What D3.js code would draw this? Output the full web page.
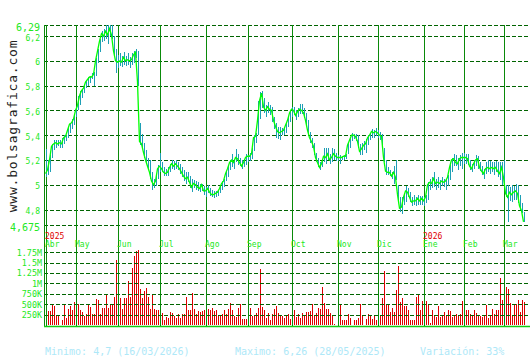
<!DOCTYPE html>
<meta charset="utf-8">
<style>
body { margin: 0; background: #fff; }
svg { display: block; }
text { font-family: "DejaVu Sans Mono", monospace; }
.grid { stroke: #006400; stroke-dasharray: 4,2; shape-rendering: crispEdges; }
.month { stroke: #0a8a0a; shape-rendering: crispEdges; }
.lbl { fill: #22e822; }
.vbar { fill: #dd0000; shape-rendering: crispEdges; }
</style>
<svg width="530" height="360"></svg>
<script src="https://d3js.org/d3.v7.min.js"></script>
<script>

// daily closes, highs, lows (trading-day index 0..239)
var closes = [
  5.09,5.12,5.2,5.31,5.33,5.34,5.33,5.34,5.33,5.38,
  5.39,5.44,5.49,5.5,5.53,5.6,5.64,5.72,5.76,5.78,
  5.83,5.85,5.87,5.87,5.89,6.0,6.08,6.16,6.22,6.2,
  6.24,6.21,6.26,6.21,6.08,6.0,5.99,6.0,5.99,6.03,
  6.0,6.01,6.0,6.01,6.05,6.07,5.83,5.35,5.33,5.26,
  5.2,5.15,5.1,5.03,5.0,5.03,5.13,5.15,5.13,5.1,
  5.09,5.1,5.14,5.17,5.15,5.17,5.15,5.13,5.1,5.07,
  5.05,5.06,5.02,4.98,5.01,5.0,4.98,4.97,5.0,4.95,
  4.95,4.97,4.94,4.92,4.92,4.93,4.94,4.97,5.01,5.03,
  5.09,5.13,5.18,5.2,5.18,5.22,5.21,5.18,5.15,5.18,
  5.22,5.23,5.23,5.25,5.38,5.39,5.52,5.68,5.74,5.63,
  5.6,5.63,5.61,5.6,5.52,5.47,5.43,5.42,5.43,5.44,
  5.48,5.52,5.58,5.61,5.6,5.56,5.59,5.61,5.6,5.58,
  5.52,5.44,5.38,5.35,5.31,5.22,5.18,5.14,5.17,5.23,
  5.22,5.25,5.2,5.22,5.25,5.23,5.22,5.22,5.22,5.23,
  5.23,5.32,5.36,5.4,5.4,5.39,5.35,5.27,5.29,5.32,
  5.33,5.38,5.4,5.43,5.42,5.43,5.42,5.4,5.39,5.22,
  5.11,5.1,5.1,5.07,5.1,5.06,4.92,4.81,4.82,4.9,
  4.95,4.94,4.9,4.86,4.87,4.87,4.89,4.87,4.89,4.87,
  4.9,5.0,5.02,5.01,5.05,5.01,5.02,5.01,5.03,5.02,
  5.03,5.06,5.14,5.2,5.21,5.18,5.17,5.21,5.22,5.22,
  5.22,5.21,5.15,5.13,5.17,5.2,5.21,5.14,5.11,5.09,
  5.13,5.14,5.13,5.14,5.13,5.14,5.11,5.09,5.14,5.06,
  4.93,4.9,4.94,4.92,4.94,4.95,4.93,4.83,4.79,4.7
];
var highs = [
  5.29,5.2,5.24,5.33,5.36,5.36,5.36,5.36,5.38,5.4,
  5.4,5.46,5.5,5.53,5.56,5.62,5.72,5.76,5.77,5.8,
  5.84,5.87,5.88,5.9,5.91,6.02,6.1,6.18,6.24,6.26,
  6.29,6.29,6.29,6.29,6.2,6.1,6.05,6.06,6.04,6.07,
  6.04,6.06,6.03,6.06,6.08,6.1,6.08,5.5,5.41,5.34,
  5.28,5.22,5.2,5.1,5.05,5.08,5.16,5.26,5.18,5.14,
  5.13,5.14,5.17,5.2,5.19,5.2,5.18,5.17,5.14,5.12,
  5.1,5.1,5.07,5.05,5.04,5.03,5.02,5.01,5.01,4.99,
  4.98,5.0,4.97,4.96,4.95,4.95,4.96,4.99,5.03,5.05,
  5.11,5.15,5.2,5.25,5.2,5.29,5.25,5.22,5.2,5.21,
  5.25,5.24,5.26,5.3,5.4,5.42,5.68,5.75,5.76,5.7,
  5.64,5.67,5.64,5.63,5.55,5.5,5.47,5.47,5.46,5.47,
  5.5,5.55,5.6,5.63,5.63,5.6,5.62,5.65,5.65,5.62,
  5.58,5.52,5.43,5.38,5.34,5.26,5.22,5.18,5.2,5.3,
  5.3,5.3,5.25,5.3,5.29,5.26,5.24,5.24,5.23,5.24,
  5.25,5.34,5.38,5.42,5.41,5.41,5.4,5.33,5.34,5.35,
  5.37,5.4,5.42,5.45,5.44,5.46,5.44,5.43,5.41,5.3,
  5.2,5.14,5.12,5.1,5.15,5.2,5.0,4.9,4.9,4.92,
  4.99,4.97,4.94,4.9,4.92,4.9,4.92,4.91,4.91,4.9,
  4.92,5.02,5.05,5.06,5.1,5.05,5.06,5.04,5.06,5.05,
  5.05,5.08,5.16,5.22,5.25,5.24,5.22,5.24,5.26,5.26,
  5.25,5.25,5.2,5.17,5.2,5.24,5.23,5.18,5.15,5.13,
  5.18,5.2,5.19,5.18,5.18,5.19,5.18,5.18,5.18,5.2,
  5.0,5.0,4.98,5.0,4.99,5.01,5.0,4.92,4.85,4.78
];
var lows = [
  5.06,5.08,5.1,5.22,5.28,5.3,5.31,5.3,5.3,5.33,
  5.35,5.38,5.42,5.45,5.48,5.55,5.6,5.64,5.7,5.74,
  5.78,5.8,5.82,5.85,5.8,5.88,5.98,6.07,6.15,6.16,
  6.18,6.14,6.2,6.18,6.05,5.9,5.94,5.96,5.95,5.97,
  5.96,5.97,5.94,5.97,5.98,6.02,5.8,5.32,5.3,5.22,
  5.17,5.12,5.05,4.96,4.97,4.99,5.05,5.1,5.1,5.07,
  5.07,5.07,5.1,5.13,5.12,5.13,5.12,5.09,5.06,5.03,
  5.01,5.02,4.97,4.94,4.97,4.96,4.95,4.94,4.95,4.92,
  4.9,4.93,4.91,4.9,4.89,4.9,4.91,4.93,4.96,4.98,
  5.03,5.06,5.12,5.14,5.13,5.18,5.16,5.15,5.13,5.14,
  5.16,5.18,5.19,5.21,5.27,5.34,5.4,5.53,5.62,5.58,
  5.55,5.58,5.56,5.51,5.45,5.38,5.37,5.36,5.4,5.4,
  5.42,5.47,5.51,5.55,5.56,5.52,5.55,5.57,5.57,5.54,
  5.48,5.41,5.34,5.3,5.24,5.18,5.14,5.12,5.14,5.18,
  5.17,5.2,5.17,5.18,5.2,5.19,5.19,5.17,5.2,5.2,
  5.21,5.25,5.3,5.35,5.37,5.35,5.3,5.24,5.24,5.28,
  5.26,5.32,5.36,5.38,5.38,5.39,5.38,5.36,5.3,5.18,
  5.08,5.08,5.07,5.05,5.01,5.04,4.88,4.78,4.76,4.84,
  4.86,4.9,4.86,4.83,4.84,4.83,4.84,4.84,4.84,4.83,
  4.85,4.88,4.96,4.97,4.98,4.96,4.97,4.96,4.99,4.98,
  4.96,4.99,5.04,5.1,5.15,5.15,5.12,5.15,5.13,5.17,
  5.17,5.16,5.12,5.1,5.13,5.15,5.13,5.11,5.08,5.05,
  5.09,5.1,5.09,5.1,5.08,5.1,5.06,5.04,5.0,5.0,
  4.9,4.7,4.87,4.86,4.88,4.88,4.85,4.8,4.77,4.7
];
// volume, thousands of shares
var volumes = [
  572,330,330,476,452,226,210,10,130,500,
  177,387,452,355,556,532,516,355,315,210,
  274,484,435,274,274,613,597,274,419,419,
  718,419,516,508,677,1560,903,645,387,637,
  645,1060,677,1380,1650,1790,1800,863,637,815,
  879,677,387,742,387,355,371,581,290,129,
  194,170,306,300,220,165,274,165,274,270,
  677,355,355,774,395,274,330,315,339,355,
  475,379,355,411,330,355,210,210,258,371,
  274,387,532,371,210,194,411,500,153,145,
  145,339,419,226,210,290,419,1350,435,371,
  177,290,129,258,387,452,290,226,210,177,
  234,274,153,355,355,194,258,177,290,210,
  306,306,339,500,210,290,403,387,919,532,
  387,387,290,234,16,10,250,500,129,113,
  113,274,161,5,129,129,177,516,226,5,
  153,258,234,153,226,113,290,210,637,1298,
  500,500,306,419,315,839,1419,548,645,468,
  468,355,113,113,113,677,709,355,580,234,
  572,516,48,355,250,194,452,194,226,306,
  210,355,330,194,210,258,250,258,572,194,
  355,355,258,250,355,290,250,226,194,210,
  476,177,210,387,258,371,355,1120,596,967,
  919,870,532,226,476,500,596,322,596,548
];

var monthNames = ["Abr","May","Jun","Jul","Ago","Sep","Oct","Nov","Dic","Ene","Feb","Mar"];
var monthStart = [0,15,36,57,80,101,123,146,166,189,209,229];
var yearNames = ["2025","2026"];
var yearStart = [0,189];

var priceTicks = [6.29,6.2,6,5.8,5.6,5.4,5.2,5,4.8,4.675];
var volTicks = [250,500,750,1000,1250,1500,1750];
var volTickLabels = ["250K","500K","750K","1M","1.25M","1.5M","1.75M"];

var footer = ["Minimo: 4,7 (16/03/2026)", "Maximo: 6,26 (28/05/2025)", "Variación: 33%"];

var svg = d3.select("svg");

// 2px per trading day
var x = d3.scaleLinear().domain([0, closes.length - 1]).range([46, 524]);
var y = d3.scaleLinear().domain([4.675, 6.29]).range([225, 25]);
var yv = d3.scaleLinear().domain([0, 1800]).range([325, 250.1]);

var fmt = function(v) { return String(v).replace(".", ","); };

// volume bars first, grid on top
svg.append("g").selectAll("rect")
  .data(volumes)
  .enter().append("rect")
    .attr("class", "vbar")
    .attr("x", function(d, i) { return Math.round(x(i)); })
    .attr("y", function(d) { return Math.round(yv(d)); })
    .attr("width", 1)
    .attr("height", function(d) { return 325 - Math.round(yv(d)); });

// watermark
svg.append("text")
    .attr("transform", "translate(17,126) rotate(-90)")
    .attr("text-anchor", "middle")
    .style("font-size", "13px")
    .style("letter-spacing", "0.8px")
    .style("fill", "#222")
    .text("www.bolsagrafica.com");

// horizontal grid, price
svg.append("g").selectAll("line")
  .data(priceTicks)
  .enter().append("line")
    .attr("class", "grid")
    .attr("x1", 44).attr("x2", 530)
    .attr("y1", function(d) { return Math.round(y(d)) + 0.5; })
    .attr("y2", function(d) { return Math.round(y(d)) + 0.5; });

svg.append("g").selectAll("text")
  .data(priceTicks)
  .enter().append("text")
    .attr("class", "lbl")
    .attr("x", 40)
    .attr("y", function(d, i) { return y(d) + (i == 0 || i == priceTicks.length - 1 ? 5.5 : 4.5); })
    .attr("text-anchor", "end")
    .style("font-size", function(d, i) { return (i == 0 || i == priceTicks.length - 1) ? "10px" : "8px"; })
    .text(fmt);

// horizontal grid, volume
svg.append("g").selectAll("line")
  .data(volTicks)
  .enter().append("line")
    .attr("class", "grid")
    .attr("x1", 44).attr("x2", 530)
    .attr("y1", function(d) { return Math.round(yv(d)) + 0.5; })
    .attr("y2", function(d) { return Math.round(yv(d)) + 0.5; });

svg.append("g").selectAll("text")
  .data(volTicks)
  .enter().append("text")
    .attr("class", "lbl")
    .attr("x", 42)
    .attr("y", function(d) { return yv(d) + 3.5; })
    .attr("text-anchor", "end")
    .style("font-size", "8.4px")
    .text(function(d, i) { return volTickLabels[i]; });

// month lines and labels
svg.append("g").selectAll("line")
  .data(monthStart)
  .enter().append("line")
    .attr("class", "month")
    .attr("x1", function(d) { return Math.round(x(d)) + 0.5; })
    .attr("x2", function(d) { return Math.round(x(d)) + 0.5; })
    .attr("y1", 25).attr("y2", 326);

svg.append("g").selectAll("text")
  .data(monthStart)
  .enter().append("text")
    .attr("class", "lbl")
    .attr("x", function(d) { return x(d) - 1; })
    .attr("y", 247)
    .style("font-size", "8px")
    .text(function(d, i) { return monthNames[i]; });

svg.append("g").selectAll("text")
  .data(yearStart)
  .enter().append("text")
    .attr("x", function(d) { return x(d) - 1; })
    .attr("y", 239)
    .style("font-size", "8px")
    .style("fill", "#e00000")
    .text(function(d, i) { return yearNames[i]; });

// left axis
svg.append("line")
    .attr("x1", 44.5).attr("x2", 44.5)
    .attr("y1", 25).attr("y2", 327)
    .style("stroke", "#0a8a0a")
    .style("shape-rendering", "crispEdges");

// clip for price panel
svg.append("clipPath").attr("id", "pclip")
  .append("rect").attr("x", 45).attr("y", 25).attr("width", 485).attr("height", 200);

var pg = svg.append("g").attr("clip-path", "url(#pclip)");

pg.append("g").selectAll("line")
  .data(closes)
  .enter().append("line")
    .attr("x1", function(d, i) { return Math.round(x(i)) + 0.5; })
    .attr("x2", function(d, i) { return Math.round(x(i)) + 0.5; })
    .attr("y1", function(d, i) { return y(highs[i]); })
    .attr("y2", function(d, i) { return y(lows[i]); })
    .style("stroke", "#1e9fb5")
    .style("stroke-width", 1)
    .style("shape-rendering", "crispEdges");

pg.append("path")
    .datum(closes)
    .attr("d", d3.line()
        .x(function(d, i) { return x(i) - 0.5; })
        .y(function(d) { return y(d); }))
    .style("fill", "none")
    .style("stroke", "#00ff00")
    .style("stroke-width", 1.3);

// volume baseline
svg.append("line")
    .attr("x1", 44).attr("x2", 530)
    .attr("y1", 326.5).attr("y2", 326.5)
    .style("stroke", "#11cc11")
    .style("stroke-width", 1.5);

// footer
var footX = [45, 235, 420];
svg.append("g").selectAll("text")
  .data(footer)
  .enter().append("text")
    .attr("x", function(d, i) { return footX[i]; })
    .attr("y", 355)
    .style("font-size", "10px")
    .style("fill", "#aee8f8")
    .text(function(d) { return d; });

</script>
